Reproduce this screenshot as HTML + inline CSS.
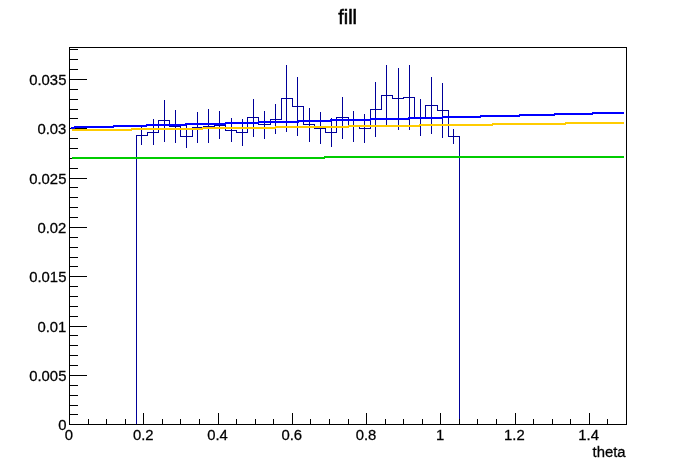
<!DOCTYPE html>
<html><head><meta charset="utf-8"><title>fill</title>
<style>html,body{margin:0;padding:0;background:#fff}svg{display:block}text{font-family:"Liberation Sans",Arial,Helvetica,sans-serif;fill:#000}</style></head><body>
<svg width="696" height="472" viewBox="0 0 696 472">
<rect width="696" height="472" fill="#fff"/>
<g fill="#000099" shape-rendering="crispEdges">
<rect x="136" y="135" width="1" height="290"/>
<rect x="136" y="135" width="12" height="1"/>
<rect x="141" y="126" width="1" height="19"/>
<rect x="147" y="132" width="1" height="4"/>
<rect x="147" y="132" width="12" height="1"/>
<rect x="153" y="119" width="1" height="26"/>
<rect x="158" y="120" width="1" height="13"/>
<rect x="158" y="120" width="12" height="1"/>
<rect x="164" y="100" width="1" height="42"/>
<rect x="169" y="120" width="1" height="7"/>
<rect x="169" y="126" width="12" height="1"/>
<rect x="175" y="110" width="1" height="33"/>
<rect x="180" y="126" width="1" height="11"/>
<rect x="180" y="136" width="13" height="1"/>
<rect x="186" y="125" width="1" height="23"/>
<rect x="192" y="127" width="1" height="10"/>
<rect x="192" y="127" width="12" height="1"/>
<rect x="197" y="112" width="1" height="31"/>
<rect x="203" y="126" width="1" height="2"/>
<rect x="203" y="126" width="12" height="1"/>
<rect x="208" y="109" width="1" height="34"/>
<rect x="214" y="125" width="1" height="2"/>
<rect x="214" y="125" width="12" height="1"/>
<rect x="219" y="111" width="1" height="28"/>
<rect x="225" y="125" width="1" height="6"/>
<rect x="225" y="130" width="12" height="1"/>
<rect x="231" y="118" width="1" height="24"/>
<rect x="236" y="130" width="1" height="3"/>
<rect x="236" y="132" width="12" height="1"/>
<rect x="242" y="119" width="1" height="27"/>
<rect x="247" y="117" width="1" height="16"/>
<rect x="247" y="117" width="12" height="1"/>
<rect x="253" y="99" width="1" height="38"/>
<rect x="258" y="117" width="1" height="8"/>
<rect x="258" y="124" width="13" height="1"/>
<rect x="264" y="111" width="1" height="28"/>
<rect x="270" y="119" width="1" height="6"/>
<rect x="270" y="119" width="12" height="1"/>
<rect x="275" y="104" width="1" height="30"/>
<rect x="281" y="98" width="1" height="22"/>
<rect x="281" y="98" width="12" height="1"/>
<rect x="286" y="65" width="1" height="67"/>
<rect x="292" y="98" width="1" height="9"/>
<rect x="292" y="106" width="12" height="1"/>
<rect x="297" y="77" width="1" height="59"/>
<rect x="303" y="106" width="1" height="19"/>
<rect x="303" y="124" width="12" height="1"/>
<rect x="309" y="108" width="1" height="34"/>
<rect x="314" y="124" width="1" height="5"/>
<rect x="314" y="128" width="12" height="1"/>
<rect x="320" y="112" width="1" height="32"/>
<rect x="325" y="128" width="1" height="5"/>
<rect x="325" y="132" width="12" height="1"/>
<rect x="331" y="118" width="1" height="29"/>
<rect x="336" y="117" width="1" height="16"/>
<rect x="336" y="117" width="13" height="1"/>
<rect x="342" y="97" width="1" height="42"/>
<rect x="348" y="117" width="1" height="10"/>
<rect x="348" y="126" width="12" height="1"/>
<rect x="353" y="111" width="1" height="31"/>
<rect x="359" y="126" width="1" height="3"/>
<rect x="359" y="128" width="12" height="1"/>
<rect x="364" y="114" width="1" height="29"/>
<rect x="370" y="109" width="1" height="20"/>
<rect x="370" y="109" width="12" height="1"/>
<rect x="375" y="82" width="1" height="55"/>
<rect x="381" y="95" width="1" height="15"/>
<rect x="381" y="95" width="12" height="1"/>
<rect x="386" y="65" width="1" height="60"/>
<rect x="392" y="95" width="1" height="4"/>
<rect x="392" y="98" width="12" height="1"/>
<rect x="398" y="68" width="1" height="62"/>
<rect x="403" y="97" width="1" height="2"/>
<rect x="403" y="97" width="12" height="1"/>
<rect x="409" y="65" width="1" height="65"/>
<rect x="414" y="97" width="1" height="21"/>
<rect x="414" y="117" width="12" height="1"/>
<rect x="420" y="99" width="1" height="37"/>
<rect x="425" y="105" width="1" height="13"/>
<rect x="425" y="105" width="13" height="1"/>
<rect x="431" y="77" width="1" height="57"/>
<rect x="437" y="105" width="1" height="6"/>
<rect x="437" y="110" width="12" height="1"/>
<rect x="442" y="83" width="1" height="55"/>
<rect x="448" y="110" width="1" height="27"/>
<rect x="448" y="136" width="12" height="1"/>
<rect x="453" y="129" width="1" height="15"/>
<rect x="459" y="136" width="1" height="289"/>
</g>
<g fill="#000" shape-rendering="crispEdges">
<rect x="69" y="47" width="558" height="1"/>
<rect x="69" y="424" width="558" height="1"/>
<rect x="69" y="47" width="1" height="378"/>
<rect x="626" y="47" width="1" height="378"/>
<rect x="69" y="413" width="1" height="11"/>
<rect x="88" y="419" width="1" height="5"/>
<rect x="106" y="419" width="1" height="5"/>
<rect x="125" y="419" width="1" height="5"/>
<rect x="143" y="413" width="1" height="11"/>
<rect x="162" y="419" width="1" height="5"/>
<rect x="180" y="419" width="1" height="5"/>
<rect x="199" y="419" width="1" height="5"/>
<rect x="218" y="413" width="1" height="11"/>
<rect x="236" y="419" width="1" height="5"/>
<rect x="255" y="419" width="1" height="5"/>
<rect x="273" y="419" width="1" height="5"/>
<rect x="292" y="413" width="1" height="11"/>
<rect x="310" y="419" width="1" height="5"/>
<rect x="329" y="419" width="1" height="5"/>
<rect x="348" y="419" width="1" height="5"/>
<rect x="366" y="413" width="1" height="11"/>
<rect x="385" y="419" width="1" height="5"/>
<rect x="403" y="419" width="1" height="5"/>
<rect x="422" y="419" width="1" height="5"/>
<rect x="440" y="413" width="1" height="11"/>
<rect x="459" y="419" width="1" height="5"/>
<rect x="477" y="419" width="1" height="5"/>
<rect x="496" y="419" width="1" height="5"/>
<rect x="515" y="413" width="1" height="11"/>
<rect x="533" y="419" width="1" height="5"/>
<rect x="552" y="419" width="1" height="5"/>
<rect x="570" y="419" width="1" height="5"/>
<rect x="589" y="413" width="1" height="11"/>
<rect x="607" y="419" width="1" height="5"/>
<rect x="626" y="419" width="1" height="5"/>
<rect x="70" y="424" width="17" height="1"/>
<rect x="70" y="414" width="8" height="1"/>
<rect x="70" y="405" width="8" height="1"/>
<rect x="70" y="395" width="8" height="1"/>
<rect x="70" y="385" width="8" height="1"/>
<rect x="70" y="375" width="17" height="1"/>
<rect x="70" y="365" width="8" height="1"/>
<rect x="70" y="355" width="8" height="1"/>
<rect x="70" y="345" width="8" height="1"/>
<rect x="70" y="335" width="8" height="1"/>
<rect x="70" y="326" width="17" height="1"/>
<rect x="70" y="316" width="8" height="1"/>
<rect x="70" y="306" width="8" height="1"/>
<rect x="70" y="296" width="8" height="1"/>
<rect x="70" y="286" width="8" height="1"/>
<rect x="70" y="276" width="17" height="1"/>
<rect x="70" y="266" width="8" height="1"/>
<rect x="70" y="257" width="8" height="1"/>
<rect x="70" y="247" width="8" height="1"/>
<rect x="70" y="237" width="8" height="1"/>
<rect x="70" y="227" width="17" height="1"/>
<rect x="70" y="217" width="8" height="1"/>
<rect x="70" y="207" width="8" height="1"/>
<rect x="70" y="197" width="8" height="1"/>
<rect x="70" y="187" width="8" height="1"/>
<rect x="70" y="178" width="17" height="1"/>
<rect x="70" y="168" width="8" height="1"/>
<rect x="70" y="158" width="8" height="1"/>
<rect x="70" y="148" width="8" height="1"/>
<rect x="70" y="138" width="8" height="1"/>
<rect x="70" y="128" width="17" height="1"/>
<rect x="70" y="118" width="8" height="1"/>
<rect x="70" y="109" width="8" height="1"/>
<rect x="70" y="99" width="8" height="1"/>
<rect x="70" y="89" width="8" height="1"/>
<rect x="70" y="79" width="17" height="1"/>
<rect x="70" y="69" width="8" height="1"/>
<rect x="70" y="59" width="8" height="1"/>
<rect x="70" y="49" width="8" height="1"/>
</g>
<g fill="#00cc00" shape-rendering="crispEdges">
<rect x="72" y="157" width="253" height="2"/>
<rect x="324" y="156" width="300" height="2"/>
</g>
<g fill="#ffcc00" shape-rendering="crispEdges">
<rect x="72" y="129" width="60" height="2"/>
<rect x="131" y="128" width="72" height="2"/>
<rect x="202" y="127" width="74" height="2"/>
<rect x="275" y="126" width="74" height="2"/>
<rect x="348" y="125" width="72" height="2"/>
<rect x="419" y="124" width="74" height="2"/>
<rect x="492" y="123" width="74" height="2"/>
<rect x="565" y="122" width="59" height="2"/>
</g>
<g fill="#0000ff" shape-rendering="crispEdges">
<rect x="71" y="127" width="4" height="2"/>
<rect x="74" y="126" width="40" height="2"/>
<rect x="113" y="125" width="34" height="2"/>
<rect x="146" y="124" width="40" height="2"/>
<rect x="185" y="123" width="41" height="2"/>
<rect x="225" y="122" width="34" height="2"/>
<rect x="258" y="121" width="41" height="2"/>
<rect x="298" y="120" width="33" height="2"/>
<rect x="330" y="119" width="41" height="2"/>
<rect x="370" y="118" width="39" height="2"/>
<rect x="408" y="117" width="35" height="2"/>
<rect x="442" y="116" width="39" height="2"/>
<rect x="480" y="115" width="40" height="2"/>
<rect x="519" y="114" width="36" height="2"/>
<rect x="554" y="113" width="39" height="2"/>
<rect x="592" y="112" width="32" height="2"/>
</g>
<g font-size="15.4px" stroke="#000" stroke-width="0.28">
<text transform="translate(69.00,439.70) scale(0.965,1)" text-anchor="middle">0</text>
<text transform="translate(143.24,439.70) scale(0.965,1)" text-anchor="middle">0.2</text>
<text transform="translate(217.48,439.70) scale(0.965,1)" text-anchor="middle">0.4</text>
<text transform="translate(291.72,439.70) scale(0.965,1)" text-anchor="middle">0.6</text>
<text transform="translate(365.96,439.70) scale(0.965,1)" text-anchor="middle">0.8</text>
<text transform="translate(440.20,439.70) scale(0.965,1)" text-anchor="middle">1</text>
<text transform="translate(514.44,439.70) scale(0.965,1)" text-anchor="middle">1.2</text>
<text transform="translate(588.68,439.70) scale(0.965,1)" text-anchor="middle">1.4</text>
<text transform="translate(66.40,429.65) scale(0.965,1)" text-anchor="end">0</text>
<text transform="translate(66.40,380.65) scale(0.965,1)" text-anchor="end">0.005</text>
<text transform="translate(66.40,331.65) scale(0.965,1)" text-anchor="end">0.01</text>
<text transform="translate(66.40,281.65) scale(0.965,1)" text-anchor="end">0.015</text>
<text transform="translate(66.40,232.65) scale(0.965,1)" text-anchor="end">0.02</text>
<text transform="translate(66.40,183.65) scale(0.965,1)" text-anchor="end">0.025</text>
<text transform="translate(66.40,133.65) scale(0.965,1)" text-anchor="end">0.03</text>
<text transform="translate(66.40,84.65) scale(0.965,1)" text-anchor="end">0.035</text>
<text transform="translate(625.60,457.20) scale(0.965,1)" text-anchor="end">theta</text>
</g>
<text x="347.6" y="23.65" text-anchor="middle" font-size="19.9px" stroke="#000" stroke-width="0.55">fill</text>
</svg></body></html>
